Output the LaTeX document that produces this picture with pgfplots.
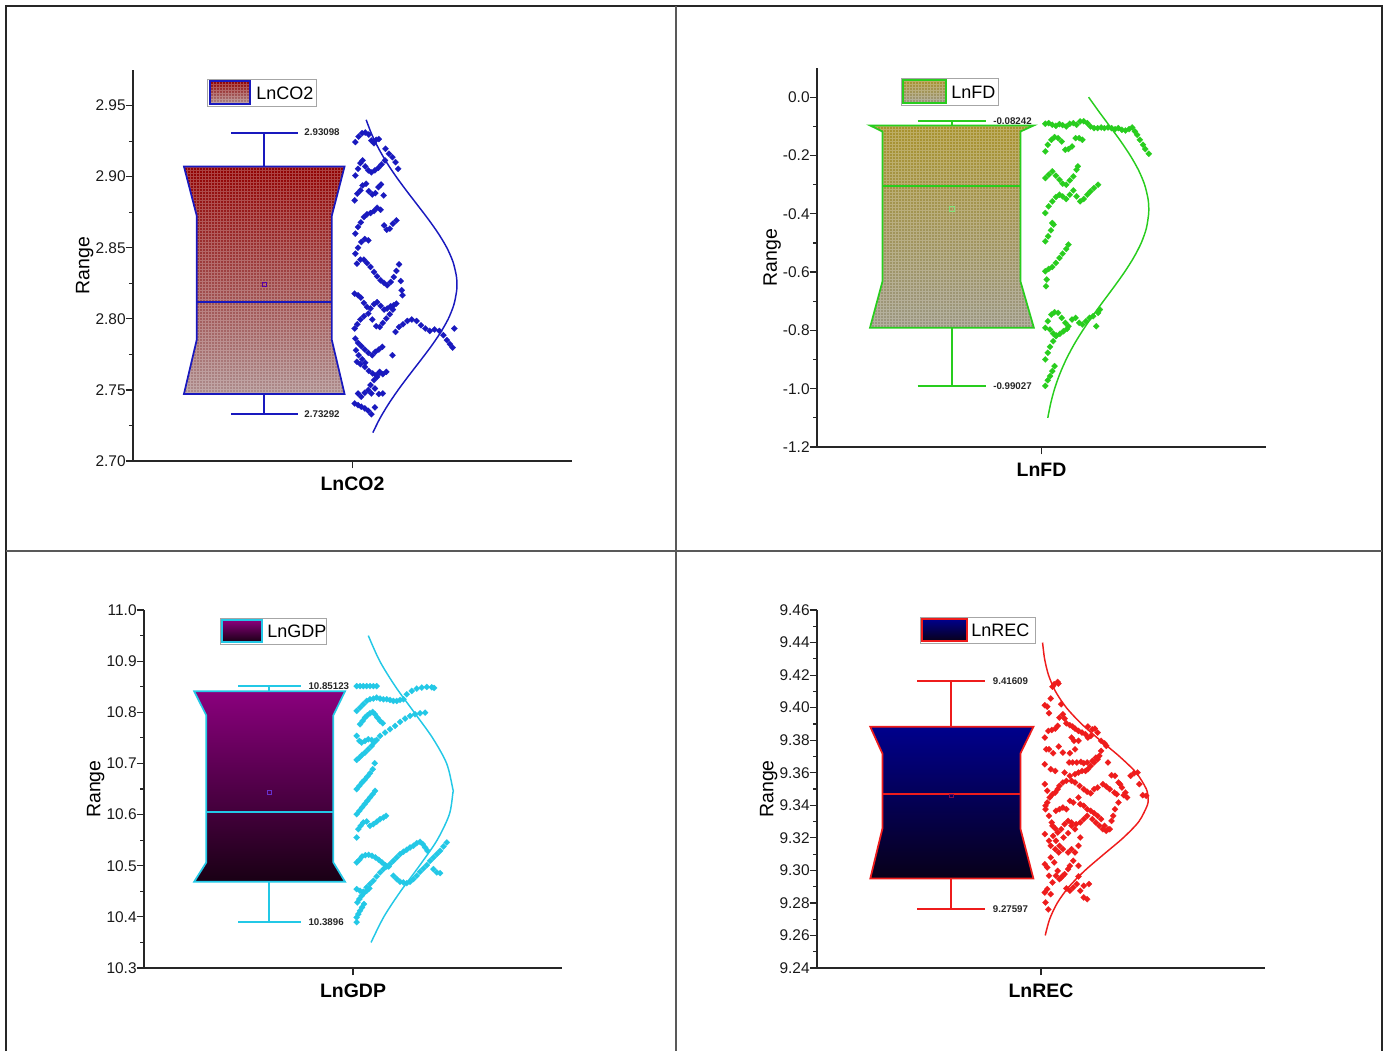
\documentclass[border=0pt]{standalone}
\usepackage{pgfplots}
\pgfplotsset{compat=1.18}
\usepackage{fontspec}
\setmainfont{Liberation Sans}

\definecolor{cco}{RGB}{25,25,190}
\definecolor{cfd}{RGB}{40,205,30}
\definecolor{cgdp}{RGB}{35,200,230}
\definecolor{crec}{RGB}{238,28,28}
\definecolor{coTop}{RGB}{145,0,0}
\definecolor{coBot}{RGB}{172,140,140}
\definecolor{fdTop}{RGB}{168,146,45}
\definecolor{fdBot}{RGB}{155,150,130}
\definecolor{gdpTop}{RGB}{138,0,125}
\definecolor{gdpBot}{RGB}{25,0,20}
\definecolor{recTop}{RGB}{0,0,140}
\definecolor{recBot}{RGB}{8,0,25}

\tikzset{
  wlabel/.style={anchor=west, inner sep=0pt, text=black!85,
    font=\bfseries\fontsize{7.3}{8}\selectfont},
  meshlines/.style={white, opacity=#1, line width=0.35pt, step=2.25pt},
}
\pgfplotsset{
  panel/.style={
    scale only axis, clip=false,
    axis x line*=bottom, axis y line*=left,
    axis line style={-, line width=1.1pt, draw=black!85},
    xmin=0, xmax=1, xtick={0.5},
    tick align=outside,
    major tick length=5.5pt, minor tick length=3pt,
    tick style={line width=0.9pt, black!85},
    minor y tick num=1,
    /pgf/number format/assume math mode=true,
    yticklabel style={font=\fontsize{11.6}{13}\selectfont, text=black!90, xshift=3.5pt},
    xticklabel style={font=\bfseries\fontsize{14.6}{16}\selectfont, yshift=-3pt},
    ylabel={Range},
    ylabel style={font=\fontsize{14.6}{16}\selectfont, yshift=-5.25pt},
  },
  scat/.style={only marks, color=#1, mark=square*, mark size=1.65pt,
    mark options={rotate=45, draw=#1, fill=#1, line width=0.1pt}},
  curve/.style={smooth, line width=1.1pt, color=#1, mark=none},
  wisk/.style={line width=1.5pt, color=#1, draw=#1, solid, mark=none},
}

\begin{document}
\begin{tikzpicture}
\begin{scope}[x=0.75pt,y=-0.75pt]
  \path[use as bounding box] (0,0) rectangle (1389,1051);
  \draw[line width=1.4pt, black!85] (6,1051) -- (6,6) -- (1382,6) -- (1382,1051);
  \draw[line width=1.3pt, black!65] (676,6) -- (676,1051);
  \draw[line width=1.3pt, black!65] (6,551) -- (1382,551);
\end{scope}

% ---------------- LnCO2 ----------------
\begin{axis}[panel, at={(99.75pt,-345.75pt)}, anchor=south west,
  width=329.25pt, height=293.25pt,
  ymin=2.70, ymax=2.975, ytick={2.70,2.75,2.80,2.85,2.90,2.95},
  yticklabel style={/pgf/number format/.cd, fixed, fixed zerofill, precision=2},
  xticklabels={LnCO2}]
  \addplot[draw=none, top color=coTop, bottom color=coBot]
    coordinates {(0.116,2.9072) (0.482,2.9072) (0.453,2.8727) (0.453,2.7850) (0.482,2.7471) (0.116,2.7471) (0.145,2.7850) (0.145,2.8727)} -- cycle;
  \begin{scope}
    \clip (axis cs:0.116,2.9072) -- (axis cs:0.482,2.9072) -- (axis cs:0.453,2.8727) -- (axis cs:0.453,2.7850) -- (axis cs:0.482,2.7471) -- (axis cs:0.116,2.7471) -- (axis cs:0.145,2.7850) -- (axis cs:0.145,2.8727) -- cycle;
    \draw[meshlines=0.25] (axis cs:0.10,2.74) grid (axis cs:0.50,2.92);
  \end{scope}
  \addplot[draw=cco, line width=1.3pt, fill=none]
    coordinates {(0.116,2.9072) (0.482,2.9072) (0.453,2.8727) (0.453,2.7850) (0.482,2.7471) (0.116,2.7471) (0.145,2.7850) (0.145,2.8727)} -- cycle;
  \addplot[wisk=cco] coordinates {(0.145,2.8119) (0.453,2.8119)};
  \addplot[wisk=cco] coordinates {(0.299,2.9072) (0.299,2.93098)};
  \addplot[wisk=cco] coordinates {(0.224,2.93098) (0.375,2.93098)};
  \addplot[wisk=cco] coordinates {(0.299,2.7471) (0.299,2.73292)};
  \addplot[wisk=cco] coordinates {(0.224,2.73292) (0.375,2.73292)};
  \addplot[only marks, mark=square, mark size=1.6pt, mark options={draw=violet!70!blue, line width=0.5pt}] coordinates {(0.299,2.8241)};
  \node[wlabel] at (axis cs:0.39,2.93098) {2.93098};
  \node[wlabel] at (axis cs:0.39,2.73292) {2.73292};
  \addplot[scat=cco] coordinates {
    (0.5065,2.9243) (0.514,2.9282) (0.522,2.9306) (0.529,2.9310) (0.537,2.9296) (0.543,2.9254) (0.549,2.9235) (0.554,2.9259) (0.560,2.9264)
    (0.575,2.9196) (0.583,2.9161) (0.591,2.9137) (0.598,2.9102) (0.604,2.9055)
    (0.5065,2.9008) (0.5126,2.9055) (0.518,2.9095) (0.523,2.9114) (0.529,2.9072) (0.536,2.9044) (0.543,2.9030) (0.551,2.9044) (0.559,2.9062) (0.566,2.9086) (0.574,2.9114)
    (0.505,2.8833) (0.511,2.8880) (0.518,2.8903) (0.523,2.8938) (0.531,2.8950) (0.537,2.8898) (0.545,2.8875) (0.552,2.8884) (0.559,2.8926) (0.565,2.8945) (0.571,2.8868)
    (0.5065,2.8599) (0.5126,2.8646) (0.519,2.8678) (0.526,2.8716) (0.533,2.8735) (0.541,2.8744) (0.549,2.8758) (0.556,2.8781) (0.564,2.8767) (0.572,2.8657) (0.578,2.8627) (0.585,2.8634) (0.592,2.8669) (0.600,2.8692)
    (0.5065,2.8458) (0.5126,2.8500) (0.520,2.8540) (0.528,2.8561) (0.536,2.8552)
    (0.510,2.8388) (0.518,2.8416) (0.526,2.8416) (0.533,2.8393) (0.541,2.8365) (0.549,2.8330) (0.556,2.8299) (0.564,2.8271) (0.572,2.8252) (0.579,2.8236) (0.587,2.8259) (0.594,2.8294) (0.600,2.8337) (0.606,2.8383) (0.610,2.8266) (0.612,2.8201) (0.614,2.8166)
    (0.505,2.8177) (0.5126,2.8166) (0.519,2.8149) (0.526,2.8112) (0.533,2.8084) (0.541,2.8072) (0.549,2.8103) (0.556,2.8117) (0.564,2.8091) (0.572,2.8065) (0.579,2.8072) (0.587,2.8089) (0.594,2.8096) (0.600,2.8107)
    (0.505,2.7932) (0.511,2.7962) (0.518,2.7995) (0.526,2.8018) (0.536,2.8037) (0.545,2.7995) (0.554,2.7948) (0.562,2.7943) (0.569,2.7971) (0.577,2.8002) (0.585,2.8032) (0.592,2.8065)
    (0.598,2.7908) (0.606,2.7943) (0.615,2.7962) (0.625,2.7985) (0.635,2.7995) (0.646,2.7985) (0.656,2.7955) (0.666,2.7932) (0.676,2.7915) (0.687,2.7925) (0.698,2.7915) (0.707,2.7885) (0.715,2.7850) (0.722,2.7822) (0.728,2.7798) (0.732,2.7932)
    (0.5065,2.7861) (0.5126,2.7831) (0.520,2.7808) (0.528,2.7784) (0.536,2.7761) (0.545,2.7744) (0.552,2.7768) (0.560,2.7784) (0.568,2.7803)
    (0.508,2.7779) (0.514,2.7744) (0.522,2.7716) (0.529,2.7691)
    (0.510,2.7698) (0.518,2.7681) (0.528,2.7662) (0.537,2.7634) (0.546,2.7616) (0.554,2.7604) (0.562,2.7620) (0.569,2.7611) (0.577,2.7627) (0.591,2.7744)
    (0.5126,2.7475) (0.520,2.7452) (0.528,2.7480) (0.536,2.7499) (0.543,2.7475) (0.551,2.7510) (0.541,2.7534) (0.549,2.7569) (0.556,2.7592) (0.562,2.7627)
    (0.505,2.7405) (0.5126,2.7393) (0.520,2.7382) (0.528,2.7370) (0.536,2.7353) (0.543,2.7329) (0.551,2.7377) (0.560,2.7471) (0.569,2.7475)};
  \addplot[curve=cco] coordinates {
    (0.5464,2.72) (0.5625,2.73) (0.5819,2.74) (0.6040,2.75) (0.6281,2.76) (0.6531,2.77) (0.6776,2.78) (0.6998,2.79) (0.7182,2.80) (0.7310,2.81) (0.7374,2.82) (0.7380,2.824)
    (0.7367,2.83) (0.7290,2.84) (0.7149,2.85) (0.6956,2.86) (0.6728,2.87) (0.6481,2.88) (0.6232,2.89) (0.5994,2.90) (0.5778,2.91) (0.5591,2.92) (0.5435,2.93) (0.5311,2.94)};
\end{axis}

% ---------------- LnFD ----------------
\begin{axis}[panel, at={(612.75pt,-335.25pt)}, anchor=south west,
  width=336.75pt, height=284.25pt,
  ymin=-1.2, ymax=0.1, ytick={-1.2,-1.0,-0.8,-0.6,-0.4,-0.2,0.0},
  yticklabel style={/pgf/number format/.cd, fixed, fixed zerofill, precision=1},
  xticklabels={LnFD}]
  \addplot[draw=none, top color=fdTop, bottom color=fdBot]
    coordinates {(0.118,-0.097) (0.483,-0.097) (0.453,-0.118) (0.453,-0.631) (0.483,-0.791) (0.118,-0.791) (0.146,-0.631) (0.146,-0.118)} -- cycle;
  \begin{scope}
    \clip (axis cs:0.118,-0.097) -- (axis cs:0.483,-0.097) -- (axis cs:0.453,-0.118) -- (axis cs:0.453,-0.631) -- (axis cs:0.483,-0.791) -- (axis cs:0.118,-0.791) -- (axis cs:0.146,-0.631) -- (axis cs:0.146,-0.118) -- cycle;
    \draw[meshlines=0.25] (axis cs:0.10,-0.80) grid (axis cs:0.50,-0.09);
  \end{scope}
  \addplot[draw=cfd, line width=1.3pt, fill=none]
    coordinates {(0.118,-0.097) (0.483,-0.097) (0.453,-0.118) (0.453,-0.631) (0.483,-0.791) (0.118,-0.791) (0.146,-0.631) (0.146,-0.118)} -- cycle;
  \addplot[wisk=cfd] coordinates {(0.146,-0.304) (0.453,-0.304)};
  \addplot[wisk=cfd] coordinates {(0.300,-0.097) (0.300,-0.08242)};
  \addplot[wisk=cfd] coordinates {(0.224,-0.08242) (0.376,-0.08242)};
  \addplot[wisk=cfd] coordinates {(0.300,-0.791) (0.300,-0.99027)};
  \addplot[wisk=cfd] coordinates {(0.224,-0.99027) (0.376,-0.99027)};
  \addplot[only marks, mark=square, mark size=1.6pt, mark options={draw=cfd!60, line width=0.5pt}] coordinates {(0.300,-0.383)};
  \node[wlabel] at (axis cs:0.392,-0.08242) {-0.08242};
  \node[wlabel] at (axis cs:0.392,-0.99027) {-0.99027};
  \addplot[scat=cfd] coordinates {
    (0.5085,-0.0913) (0.516,-0.0891) (0.524,-0.0948) (0.532,-0.0982) (0.540,-0.0925) (0.547,-0.0959) (0.555,-0.1005) (0.563,-0.0913) (0.571,-0.0891) (0.578,-0.0948) (0.586,-0.0834) (0.594,-0.0824) (0.602,-0.0891) (0.609,-0.1005) (0.617,-0.1062) (0.625,-0.1062) (0.633,-0.1039) (0.640,-0.1062) (0.648,-0.1039) (0.656,-0.1062) (0.664,-0.1096) (0.671,-0.1062) (0.679,-0.1119) (0.687,-0.1142) (0.695,-0.1096) (0.702,-0.1039) (0.708,-0.1176) (0.713,-0.1290) (0.719,-0.1462) (0.726,-0.1633) (0.731,-0.1781) (0.739,-0.1941)
    (0.5085,-0.1861) (0.514,-0.1633) (0.522,-0.1462) (0.529,-0.1370) (0.537,-0.1404) (0.545,-0.1519) (0.553,-0.1804) (0.560,-0.1781) (0.568,-0.1690) (0.576,-0.1404) (0.584,-0.1404) (0.591,-0.1462)
    (0.5085,-0.2775) (0.516,-0.2660) (0.524,-0.2546) (0.532,-0.2695) (0.540,-0.2832) (0.547,-0.2969) (0.555,-0.3003) (0.563,-0.2854) (0.571,-0.2718) (0.578,-0.2489) (0.581,-0.2375)
    (0.5085,-0.3973) (0.516,-0.3745) (0.524,-0.3574) (0.532,-0.3425) (0.540,-0.3345) (0.547,-0.3403) (0.555,-0.3494) (0.563,-0.3345) (0.571,-0.3197) (0.578,-0.3403) (0.586,-0.3574) (0.594,-0.3494) (0.602,-0.3345) (0.609,-0.3231) (0.617,-0.3117) (0.626,-0.3003)
    (0.5085,-0.4944) (0.5147,-0.4773) (0.521,-0.4567) (0.527,-0.4373) (0.524,-0.4316)
    (0.5085,-0.5972) (0.516,-0.5892) (0.524,-0.5823) (0.532,-0.5686) (0.540,-0.5515) (0.547,-0.5366) (0.555,-0.5207) (0.560,-0.5058) (0.5116,-0.6257) (0.510,-0.6485)
    (0.5085,-0.7913) (0.514,-0.7684) (0.522,-0.7456) (0.529,-0.7376) (0.537,-0.7399) (0.545,-0.7570) (0.553,-0.7741) (0.560,-0.7856) (0.568,-0.7627) (0.576,-0.7570) (0.584,-0.7741) (0.591,-0.7798) (0.599,-0.7684) (0.607,-0.7570) (0.615,-0.7513) (0.622,-0.7856) (0.626,-0.7399) (0.630,-0.7285) (0.519,-0.7970) (0.526,-0.8107) (0.533,-0.8175) (0.541,-0.8118) (0.549,-0.8027) (0.557,-0.7947)
    (0.5085,-0.8997) (0.514,-0.8769) (0.519,-0.8563) (0.526,-0.8370) (0.532,-0.8198)
    (0.5085,-0.9903) (0.514,-0.9711) (0.519,-0.9568) (0.524,-0.9397) (0.529,-0.9226)};
  \addplot[curve=cfd] coordinates {
    (0.5140,-1.10) (0.5205,-1.05) (0.5292,-1.00) (0.5406,-0.95) (0.5548,-0.90) (0.5719,-0.85) (0.5918,-0.80) (0.6140,-0.75) (0.6377,-0.70) (0.6618,-0.65) (0.6849,-0.60) (0.7054,-0.55) (0.7221,-0.50) (0.7335,-0.45) (0.7387,-0.40) (0.7390,-0.385)
    (0.7374,-0.35) (0.7296,-0.30) (0.7160,-0.25) (0.6976,-0.20) (0.6759,-0.15) (0.6522,-0.10) (0.6281,-0.05) (0.6049,0.00)};
\end{axis}

% ---------------- LnGDP ----------------
\begin{axis}[panel, at={(108pt,-726pt)}, anchor=south west,
  width=313.5pt, height=268.5pt,
  ymin=10.3, ymax=11.0, ytick={10.3,10.4,10.5,10.6,10.7,10.8,10.9,11.0},
  yticklabel style={/pgf/number format/.cd, fixed, fixed zerofill, precision=1},
  xticklabels={LnGDP}]
  \addplot[draw=cgdp, line width=1.3pt, top color=gdpTop, bottom color=gdpBot]
    coordinates {(0.120,10.8411) (0.481,10.8411) (0.453,10.7942) (0.453,10.5064) (0.481,10.4687) (0.120,10.4687) (0.149,10.5064) (0.149,10.7942)} -- cycle;
  \addplot[wisk=cgdp] coordinates {(0.149,10.606) (0.453,10.606)};
  \addplot[wisk=cgdp] coordinates {(0.300,10.8411) (0.300,10.85123)};
  \addplot[wisk=cgdp] coordinates {(0.225,10.85123) (0.375,10.85123)};
  \addplot[wisk=cgdp] coordinates {(0.300,10.4687) (0.300,10.3896)};
  \addplot[wisk=cgdp] coordinates {(0.225,10.3896) (0.375,10.3896)};
  \addplot[only marks, mark=square, mark size=1.6pt, mark options={draw=blue!50!violet!80, line width=0.5pt}] coordinates {(0.300,10.6432)};
  \node[wlabel] at (axis cs:0.393,10.85123) {10.85123};
  \node[wlabel] at (axis cs:0.393,10.3896) {10.3896};
  \addplot[scat=cgdp] coordinates {
    (0.5088,10.8512) (0.5168,10.8512) (0.5247,10.8512) (0.5327,10.8512) (0.5407,10.8512) (0.5487,10.8512) (0.5567,10.8512)
    (0.6286,10.8353) (0.6406,10.8418) (0.6525,10.8463) (0.6645,10.8483) (0.6765,10.8496) (0.6885,10.8489) (0.6941,10.8476)
    (0.5088,10.8027) (0.5168,10.8092) (0.5247,10.8157) (0.5327,10.8222) (0.5407,10.8255) (0.5487,10.8268) (0.5567,10.8287) (0.5647,10.8268) (0.5727,10.8255) (0.5807,10.8255) (0.5886,10.8242) (0.5966,10.8222) (0.6046,10.8222) (0.6126,10.8242) (0.6206,10.8255)
    (0.5168,10.7766) (0.5231,10.7832) (0.5287,10.7897) (0.5343,10.7942) (0.5407,10.7981) (0.5471,10.8007) (0.5527,10.7962) (0.5583,10.7897) (0.5647,10.7832) (0.5711,10.7786)
    (0.5647,10.7539) (0.5767,10.7604) (0.5886,10.7669) (0.6006,10.7734) (0.6126,10.7812) (0.6246,10.7877) (0.6366,10.7929) (0.6485,10.7962) (0.6605,10.7981) (0.6725,10.7994)
    (0.5088,10.7539) (0.5152,10.7441) (0.5207,10.7408) (0.5287,10.7441) (0.5367,10.7473) (0.5447,10.7460) (0.5527,10.7441)
    (0.5088,10.7070) (0.5152,10.7115) (0.5216,10.7167) (0.5287,10.7213) (0.5367,10.7278) (0.5447,10.7343) (0.5503,10.7408) (0.5567,10.7460)
    (0.5088,10.6497) (0.5152,10.6562) (0.5216,10.6627) (0.5279,10.6679) (0.5343,10.6744) (0.5407,10.6809) (0.5471,10.6887) (0.5519,10.7005)
    (0.5088,10.6008) (0.5152,10.6073) (0.5216,10.6139) (0.5279,10.6204) (0.5343,10.6269) (0.5407,10.6334) (0.5471,10.6399) (0.5527,10.6464)
    (0.5128,10.5715) (0.5184,10.5780) (0.5247,10.5846) (0.5327,10.5865) (0.5407,10.5780) (0.5487,10.5813) (0.5567,10.5859) (0.5647,10.5911) (0.5727,10.5943) (0.5791,10.5976)
    (0.5088,10.5552)
    (0.5088,10.5064) (0.5152,10.5116) (0.5216,10.5181) (0.5295,10.5207) (0.5375,10.5214) (0.5455,10.5194) (0.5535,10.5162) (0.5615,10.5116) (0.5695,10.5064) (0.5775,10.5012) (0.5855,10.4986)
    (0.5886,10.5032) (0.5966,10.5097) (0.6046,10.5162) (0.6126,10.5227) (0.6206,10.5273) (0.6286,10.5312) (0.6366,10.5357) (0.6446,10.5390) (0.6525,10.5442) (0.6605,10.5468) (0.6669,10.5422) (0.6725,10.5357) (0.6781,10.5292)
    (0.5088,10.4543) (0.5168,10.4511) (0.5247,10.4491) (0.5327,10.4576) (0.5407,10.4641) (0.5487,10.4706) (0.5567,10.4791) (0.5647,10.4869) (0.5727,10.4934) (0.5807,10.4986)
    (0.5966,10.4804) (0.6046,10.4739) (0.6126,10.4687) (0.6206,10.4674) (0.6286,10.4660) (0.6366,10.4687) (0.6446,10.4739) (0.6525,10.4804) (0.6605,10.4882) (0.6685,10.4947) (0.6765,10.5012) (0.6845,10.5097) (0.6925,10.5162) (0.7005,10.5227) (0.7084,10.5292) (0.7164,10.5377) (0.7244,10.5455)
    (0.6925,10.4934) (0.7005,10.4869) (0.7084,10.4856)
    (0.5104,10.4283) (0.5152,10.4348) (0.5207,10.4413) (0.5263,10.4465) (0.5327,10.4511) (0.5391,10.4556)
    (0.5088,10.3990) (0.5128,10.4055) (0.5168,10.4120) (0.5216,10.4185) (0.5263,10.4250)
    (0.5088,10.3896)};
  \addplot[curve=cgdp] coordinates {
    (0.5432,10.35) (0.5737,10.40) (0.6138,10.45) (0.6590,10.50) (0.7012,10.55) (0.7303,10.60) (0.7390,10.643) (0.7388,10.65)
    (0.7240,10.70) (0.6903,10.75) (0.6463,10.80) (0.6018,10.85) (0.5641,10.90) (0.5366,10.95)};
\end{axis}

% ---------------- LnREC ----------------
\begin{axis}[panel, at={(612.75pt,-726pt)}, anchor=south west,
  width=336pt, height=268.5pt,
  ymin=9.24, ymax=9.46, ytick={9.24,9.26,9.28,9.30,9.32,9.34,9.36,9.38,9.40,9.42,9.44,9.46},
  yticklabel style={/pgf/number format/.cd, fixed, fixed zerofill, precision=2},
  xticklabels={LnREC}]
  \addplot[draw=crec, line width=1.3pt, top color=recTop, bottom color=recBot]
    coordinates {(0.119,9.3882) (0.483,9.3882) (0.454,9.3718) (0.454,9.3257) (0.483,9.2950) (0.119,9.2950) (0.146,9.3257) (0.146,9.3718)} -- cycle;
  \addplot[wisk=crec] coordinates {(0.146,9.3470) (0.454,9.3470)};
  \addplot[wisk=crec] coordinates {(0.300,9.3882) (0.300,9.41609)};
  \addplot[wisk=crec] coordinates {(0.224,9.41609) (0.376,9.41609)};
  \addplot[wisk=crec] coordinates {(0.300,9.2950) (0.300,9.27597)};
  \addplot[wisk=crec] coordinates {(0.224,9.27597) (0.376,9.27597)};
  \addplot[only marks, mark=square, mark size=1.4pt, mark options={draw=crec!50!recTop, line width=0.4pt}] coordinates {(0.300,9.3458)};
  \node[wlabel] at (axis cs:0.392,9.41609) {9.41609};
  \node[wlabel] at (axis cs:0.392,9.27597) {9.27597};
  \addplot[scat=crec] coordinates {
    (0.5295,9.4144) (0.5372,9.4158) (0.5388,9.4148) (0.5256,9.4129)
    (0.5085,9.4015) (0.5140,9.4006) (0.5217,9.4056) (0.5450,9.4021) (0.5178,9.3966)
    (0.5411,9.3939) (0.5488,9.3959) (0.5527,9.3933) (0.5566,9.3904) (0.5318,9.3871) (0.5372,9.3888) (0.5240,9.3863) (0.5163,9.3857)
    (0.5085,9.3816) (0.5644,9.3892) (0.5706,9.3884) (0.5760,9.3871) (0.5837,9.3857) (0.5915,9.3847) (0.5992,9.3837) (0.6047,9.3884) (0.6147,9.3867) (0.6202,9.3871) (0.6264,9.3847) (0.5682,9.3816) (0.5737,9.3796) (0.5837,9.3796) (0.6047,9.3816) (0.6109,9.3826) (0.6341,9.3796) (0.6419,9.3781) (0.6457,9.3765)
    (0.5116,9.3744) (0.5178,9.3744) (0.5271,9.3720) (0.5395,9.3761) (0.5488,9.3724) (0.5644,9.3720) (0.5760,9.3744) (0.6341,9.3734) (0.6302,9.3704) (0.6264,9.3683) (0.6186,9.3663) (0.6109,9.3642) (0.6047,9.3622) (0.5992,9.3611) (0.5915,9.3611) (0.5837,9.3601) (0.5760,9.3591) (0.5644,9.3581) (0.5566,9.3550) (0.5488,9.3540) (0.5411,9.3519) (0.5372,9.3499) (0.5318,9.3478) (0.5256,9.3468) (0.5194,9.3448) (0.5140,9.3417) (0.5101,9.3397)
    (0.5085,9.3652) (0.5217,9.3622) (0.5318,9.3611) (0.5527,9.3601) (0.5628,9.3663) (0.5706,9.3663) (0.5799,9.3663) (0.5892,9.3667) (0.5954,9.3659) (0.6031,9.3663) (0.6147,9.3673) (0.6225,9.3693) (0.6496,9.3663) (0.6574,9.3585) (0.6651,9.3581) (0.6729,9.3540) (0.6806,9.3509) (0.6884,9.3478) (0.7000,9.3581) (0.7078,9.3597) (0.7155,9.3601) (0.7194,9.3530) (0.7271,9.3462) (0.7349,9.3458)
    (0.5085,9.3530) (0.5140,9.3489) (0.5682,9.3550) (0.5760,9.3540) (0.5861,9.3519) (0.5954,9.3499) (0.6031,9.3483) (0.6109,9.3474) (0.6186,9.3499) (0.6264,9.3509) (0.6380,9.3530) (0.6457,9.3515) (0.6535,9.3499) (0.6636,9.3478) (0.6690,9.3468) (0.6767,9.3530) (0.6845,9.3462) (0.6922,9.3448)
    (0.5101,9.3376) (0.5178,9.3335) (0.5240,9.3294) (0.5333,9.3366) (0.5411,9.3376) (0.5488,9.3386) (0.5566,9.3376) (0.5644,9.3427) (0.5721,9.3417) (0.5837,9.3448) (0.5876,9.3407) (0.5954,9.3397) (0.6031,9.3376) (0.6109,9.3366) (0.6186,9.3352) (0.6264,9.3335) (0.6341,9.3315) (0.6419,9.3274) (0.6496,9.3253) (0.6574,9.3304) (0.6612,9.3335) (0.6651,9.3376) (0.6729,9.3417)
    (0.5256,9.3274) (0.5318,9.3257) (0.5372,9.3233) (0.5450,9.3253) (0.5527,9.3284) (0.5605,9.3304) (0.5682,9.3294) (0.5783,9.3284) (0.5876,9.3294) (0.5954,9.3315) (0.6031,9.3335) (0.6147,9.3315) (0.6225,9.3294) (0.6302,9.3274) (0.6380,9.3253) (0.6457,9.3243) (0.6535,9.3253)
    (0.5085,9.3223) (0.5178,9.3182) (0.5271,9.3212) (0.5333,9.3182) (0.5411,9.3151) (0.5504,9.3202) (0.5605,9.3229) (0.5682,9.3274) (0.5760,9.3253) (0.5876,9.3202)
    (0.5217,9.3151) (0.5318,9.3130) (0.5395,9.3110) (0.5488,9.3130) (0.5605,9.3110) (0.5682,9.3130) (0.5760,9.3110) (0.5837,9.3151)
    (0.5085,9.3038) (0.5140,9.3018) (0.5217,9.3079) (0.5295,9.3049) (0.5372,9.2997) (0.5450,9.2956) (0.5527,9.2977) (0.5605,9.3008) (0.5644,9.3028) (0.5721,9.3059) (0.5837,9.3028)
    (0.5178,9.2967) (0.5256,9.2926) (0.5333,9.2967) (0.5411,9.2946) (0.5488,9.2967) (0.5566,9.2889) (0.5644,9.2875) (0.5721,9.2895) (0.5799,9.2916) (0.5837,9.2963) (0.5954,9.2905) (0.6070,9.2916)
    (0.5085,9.2864) (0.5140,9.2885) (0.5217,9.2854) (0.5101,9.2803) (0.5163,9.2760) (0.5876,9.2875) (0.5954,9.2834) (0.6031,9.2823)};
  \addplot[curve=crec] coordinates {
    (0.5094,9.26) (0.5193,9.27) (0.5364,9.28) (0.5626,9.29) (0.5983,9.30) (0.6406,9.31) (0.6835,9.32) (0.7184,9.33) (0.7373,9.34) (0.7390,9.344)
    (0.7351,9.35) (0.7125,9.36) (0.6752,9.37) (0.6318,9.38) (0.5905,9.39) (0.5566,9.40) (0.5323,9.41) (0.5168,9.42) (0.5080,9.43) (0.5035,9.44)};
\end{axis}

% ---------------- legends ----------------
\begin{scope}[x=0.75pt,y=-0.75pt, every node/.style={anchor=west, inner sep=0pt, font=\fontsize{13.5}{15}\selectfont}]
  \draw[black!35, line width=0.7pt, fill=white] (207,79) rectangle (316,106);
  \shade[top color=coTop, bottom color=coBot] (210,81) rectangle (250,104);
  \begin{scope}\clip (210,104) rectangle (250,81); \draw[meshlines=0.25] (210,104) grid (250,81);\end{scope}
  \draw[cco, line width=1pt] (210,81) rectangle (250,104);
  \node at (256,93) {LnCO2};

  \draw[black!35, line width=0.7pt, fill=white] (901,78) rectangle (998,105);
  \shade[top color=fdTop, bottom color=fdBot] (903,80) rectangle (946,103);
  \begin{scope}\clip (903,103) rectangle (946,80); \draw[meshlines=0.25] (903,103) grid (946,80);\end{scope}
  \draw[cfd, line width=1pt] (903,80) rectangle (946,103);
  \node at (951,92) {LnFD};

  \draw[black!35, line width=0.7pt, fill=white] (220,618) rectangle (326,644);
  \draw[cgdp, line width=1pt, top color=gdpTop, bottom color=gdpBot] (222,620) rectangle (262,642);
  \node at (267,631) {LnGDP};

  \draw[black!35, line width=0.7pt, fill=white] (920,617) rectangle (1035,643);
  \draw[crec, line width=1pt, top color=recTop, bottom color=recBot] (922,619) rectangle (967,641);
  \node at (971,630) {LnREC};
\end{scope}
\end{tikzpicture}
\end{document}
